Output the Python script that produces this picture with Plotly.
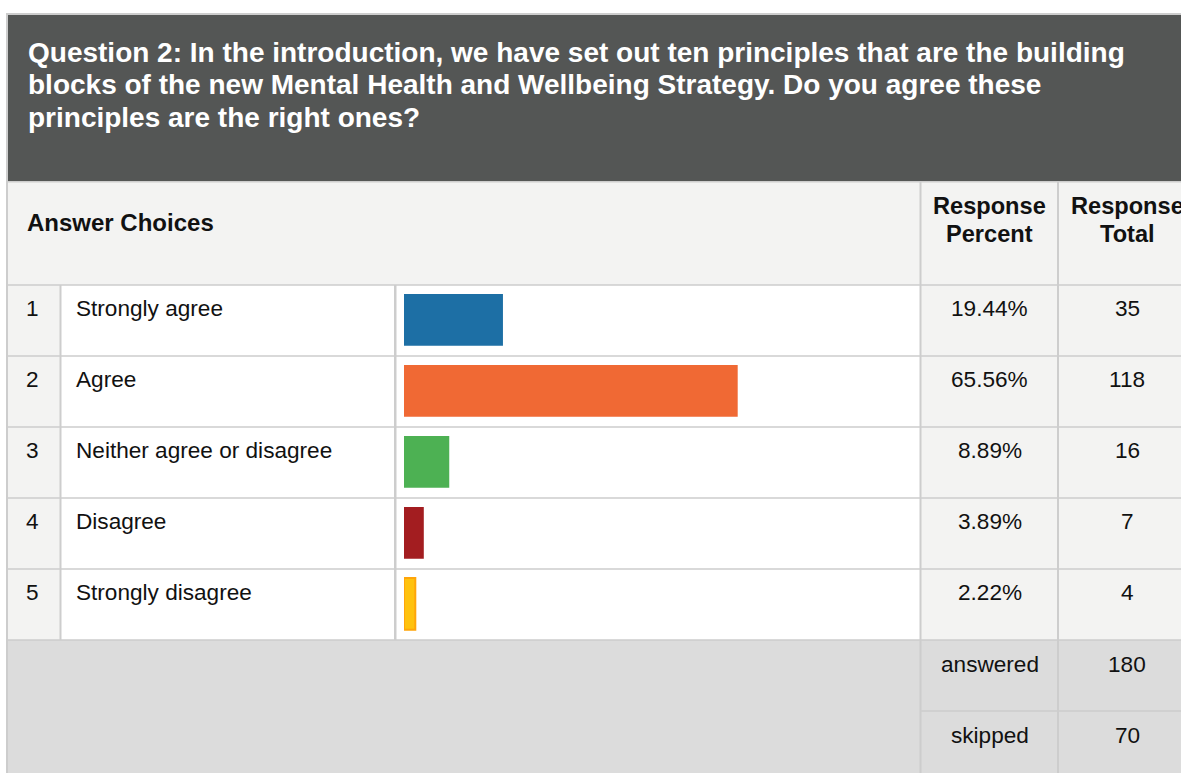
import plotly.graph_objects as go

# ---------------- data ----------------
title_lines = [
    "Question 2: In the introduction, we have set out ten principles that are the building",
    "blocks of the new Mental Health and Wellbeing Strategy. Do you agree these",
    "principles are the right ones?",
]
row_numbers = [1, 2, 3, 4, 5]
choices = ["Strongly agree", "Agree", "Neither agree or disagree", "Disagree", "Strongly disagree"]
percents = [19.44, 65.56, 8.89, 3.89, 2.22]
totals = [35, 118, 16, 7, 4]
summary_labels = ["answered", "skipped"]
summary_values = [180, 70]
header_choices = "Answer Choices"
header_pct = ["Response", "Percent"]
header_tot = ["Response", "Total"]

bar_colors = ["#1d6fa5", "#f06934", "#4db153", "#a31d20", "#ffc20e"]
bar_line_colors = ["#1d6fa5", "#f06934", "#4db153", "#a31d20", "#ffa50a"]
bar_line_widths = [0, 0, 0, 0, 2]

# ---------------- layout helpers ----------------
W, H = 1181, 773
FONT = "Arial, 'Liberation Sans', Helvetica, sans-serif"


def X(px):
    return px / W


def Y(py):
    return 1 - py / H


shapes = []


def rect(x0, y0, x1, y1, color):
    shapes.append(dict(type="rect", xref="paper", yref="paper",
                       x0=X(x0), x1=X(x1), y0=Y(y1), y1=Y(y0),
                       fillcolor=color, line=dict(width=0), layer="below"))


annotations = []


def text(x, y, s, size, color="#111111", bold=False, anchor="left"):
    annotations.append(dict(xref="paper", yref="paper", x=X(x), y=Y(y),
                            text=f"<b>{s}</b>" if bold else s,
                            showarrow=False, xanchor=anchor, yanchor="middle",
                            borderpad=0, borderwidth=0,
                            font=dict(family=FONT, size=size, color=color)))


GRID = "#cdcdcd"
LIGHT = "#f3f3f2"
ROW_TOP = 284.3
ROW_H = 71.0
N = len(choices)
rows_bottom = ROW_TOP + ROW_H * N

# outer border / grid background
rect(6, 13, W + 2, H + 2, GRID)
# dark title band
rect(8, 15, W + 2, 181, "#545655")
# header row
rect(8, 182.5, 919.5, ROW_TOP, LIGHT)
rect(921.5, 182.5, 1057, ROW_TOP, LIGHT)
rect(1059, 182.5, W + 2, ROW_TOP, LIGHT)

# data rows
for i in range(N):
    t = ROW_TOP + ROW_H * i + 1.5
    b = ROW_TOP + ROW_H * (i + 1)
    rect(8, t, 59.5, b, LIGHT)
    rect(61.5, t, 394, b, "white")
    rect(396.5, t, 919.5, b, "white")
    rect(921.5, t, 1057, b, LIGHT)
    rect(1059, t, W + 2, b, LIGHT)

# summary area
sum_top = rows_bottom + 1.5
rect(8, sum_top, 919.5, H + 2, "#dcdcdc")
rect(921.5, sum_top, 1057, rows_bottom + ROW_H, "#dcdcdc")
rect(1059, sum_top, W + 2, rows_bottom + ROW_H, "#dcdcdc")
rect(921.5, rows_bottom + ROW_H + 1.5, 1057, H + 2, "#dcdcdc")
rect(1059, rows_bottom + ROW_H + 1.5, W + 2, H + 2, "#dcdcdc")

# ---------------- texts ----------------
for k, line in enumerate(title_lines):
    text(28, 52.5 + 32.3 * k, line, 28, color="white", bold=True)

text(27, 222, header_choices, 24, bold=True)
for k in range(2):
    text(989.5, 206 + 27.7 * k, header_pct[k], 23.6, bold=True, anchor="center")
    text(1127, 206 + 27.7 * k, header_tot[k], 23.6, bold=True, anchor="center")

for i in range(N):
    cy = ROW_TOP + ROW_H * i + 24.6
    text(32, cy, str(row_numbers[i]), 22.6, anchor="center")
    text(76, cy, choices[i], 22.6)
    text(989.5, cy, f"{percents[i]:.2f}%", 22.6, anchor="center")
    text(1127, cy, str(totals[i]), 22.6, anchor="center")

for k in range(2):
    cy = rows_bottom + ROW_H * k + 25
    text(989.5, cy, summary_labels[k], 22.6, anchor="center")
    text(1127, cy, str(summary_values[k]), 22.6, anchor="center")

# ---------------- bars ----------------
fig = go.Figure()
fig.add_trace(go.Bar(
    x=percents, y=row_numbers, orientation="h",
    width=0.73,
    marker=dict(color=bar_colors,
                line=dict(color=bar_line_colors, width=bar_line_widths)),
    hoverinfo="skip", showlegend=False,
))

bar_left = 404
px_per_pct = 5.09
fig.update_layout(
    width=W, height=H, autosize=False,
    margin=dict(l=0, r=0, t=0, b=0, pad=0),
    paper_bgcolor="white", plot_bgcolor="rgba(0,0,0,0)",
    shapes=shapes, annotations=annotations,
    xaxis=dict(domain=[X(bar_left), X(bar_left + 100 * px_per_pct)], range=[0, 100],
               visible=False, showgrid=False, zeroline=False, fixedrange=True),
    yaxis=dict(domain=[Y(rows_bottom), Y(ROW_TOP)], range=[N + 0.5, 0.5],
               visible=False, showgrid=False, zeroline=False, fixedrange=True),
    font=dict(family=FONT),
)

fig.write_html(
    "out.html",
    config={"displayModeBar": False},
    post_script="document.body.style.margin='0';document.body.style.overflow='hidden';",
)
